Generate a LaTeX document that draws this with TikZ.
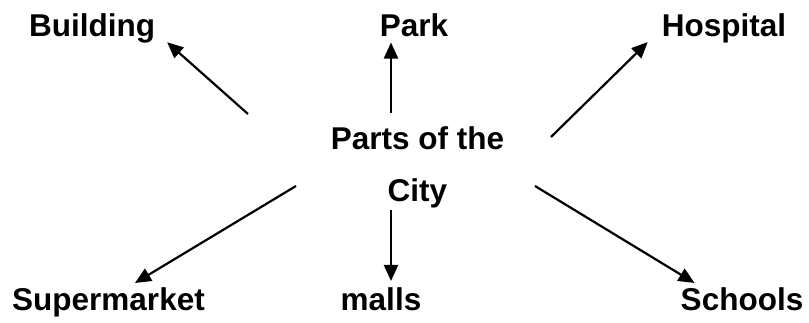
\documentclass[tikz,border=0pt]{standalone}
\usepackage{fontspec}
\setmainfont{Liberation Sans}
\usepackage{tikz}
\usetikzlibrary{arrows.meta}
\tikzset{ %
  ,>={Triangle[length=16pt,width=14pt]}
  ,every node/.style={font=\bfseries\fontsize{31.5}{38}\selectfont}
  ,part/.style={inner sep=0, anchor=base}
  ,arr/.style={->, line width=2.2pt}
}

\begin{document}
\begin{tikzpicture}[x=1pt, y=1pt]
      \useasboundingbox (0,0) rectangle (809,323);
      % centre
      \node[part] (hub) at (417.5,173) {Parts of the};
      \node[part] (city) at (417.5,121) {City};
      % parts
      \node[part] (building) at (92,286) {Building};
      \node[part] (park) at (414,286) {Park};
      \node[part] (hospital) at (724,286) {Hospital};
      \node[part] (supermarket) at (108.5,12) {Supermarket};
      \node[part] (malls) at (381,12) {malls};
      \node[part] (schools) at (742,12) {Schools};
      % tails
      \coordinate (t1) at (248,209);
      \coordinate (t2) at (391,210);
      \coordinate (t3) at (551,186);
      \coordinate (t4) at (296,137);
      \coordinate (t5) at (391,113);
      \coordinate (t6) at (535,137);
      \draw[arr] (t1) -- ([shift={(12,1.6)}]building.south east);
      \draw[arr, shorten >=5pt] (t2) -- (t2 |- park.south);
      \draw[arr] (t3) -- ([shift={(-14,1.6)}]hospital.south west);
      \draw[arr] (t4) -- ([shift={(26.5,5)}]supermarket.north);
      \draw[arr, shorten >=7pt] (t5) -- (t5 |- malls.north);
      \draw[arr] (t6) -- ([shift={(14,5)}]schools.north west);
    \end{tikzpicture}
\end{document}
